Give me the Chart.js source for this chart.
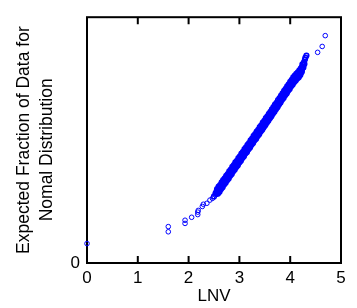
<!DOCTYPE html>
<html>
<head>
<meta charset="utf-8">
<script src="https://cdn.jsdelivr.net/npm/chart.js@4"></script>
<style>
html, body { margin: 0; padding: 0; background: #fff; }
canvas { display: block; }
</style>
</head>
<body>
<canvas id="myChart" width="357" height="308"></canvas>
<script>
const xTicks = [0, 1, 2, 3, 4, 5];
const yTicks = [0];

// isolated points at both ends (y as fraction of plot height)
const tailLnv = [0, 1.60, 1.60, 1.93, 1.93, 2.06, 2.18, 2.18, 2.19, 2.27, 2.29, 2.36, 2.42, 2.47, 4.54, 4.63, 4.69];
const tailFraction = [0.079, 0.148, 0.127, 0.174, 0.161, 0.186, 0.197, 0.207, 0.214, 0.230, 0.239, 0.243, 0.256, 0.263, 0.857, 0.881, 0.925];

// the dense band of points in the middle
const bandLnv = [
    2.50, 2.53, 2.55, 2.57, 2.59, 2.61, 2.63, 2.65, 2.67, 2.69, 2.71, 2.73, 2.75, 2.77, 2.79,
    2.81, 2.83, 2.85, 2.87, 2.89, 2.91, 2.93, 2.95, 2.97, 2.99, 3.01, 3.03, 3.05, 3.07, 3.09,
    3.11, 3.13, 3.15, 3.17, 3.19, 3.21, 3.23, 3.25, 3.27, 3.29, 3.31, 3.33, 3.35, 3.37, 3.39,
    3.41, 3.43, 3.45, 3.47, 3.49, 3.51, 3.53, 3.55, 3.57, 3.59, 3.61, 3.63, 3.65, 3.67, 3.69,
    3.71, 3.73, 3.75, 3.77, 3.79, 3.81, 3.83, 3.85, 3.87, 3.89, 3.91, 3.93, 3.95, 3.97, 3.99,
    4.01, 4.03, 4.05, 4.07, 4.09, 4.11, 4.13, 4.15, 4.17, 4.19, 4.21, 4.23, 4.24, 4.26, 4.27,
    4.29, 4.30, 4.32,
    2.56, 2.59, 2.62, 2.65, 2.68, 2.71, 2.74, 2.77, 2.80, 2.83, 2.86, 2.89, 2.92, 2.95, 2.98,
    3.01, 3.04, 3.07, 3.10, 3.13, 3.16, 3.19, 3.22, 3.25, 3.28, 3.31, 3.34, 3.37, 3.40, 3.43,
    3.46, 3.49, 3.52, 3.55, 3.58, 3.61, 3.64, 3.67, 3.70, 3.73, 3.76, 3.79, 3.82, 3.85, 3.88,
    3.91, 3.94, 3.97, 4.00, 4.03, 4.06, 4.09, 4.12, 4.15, 4.18, 4.21, 4.24,
    2.58, 2.61, 2.64, 2.67, 2.70, 2.73, 2.76, 2.79, 2.82, 2.85, 2.88, 2.91, 2.94, 2.97, 3.00,
    3.03, 3.06, 3.09, 3.12, 3.15, 3.18, 3.21, 3.24, 3.27, 3.30, 3.33, 3.36, 3.39, 3.42, 3.45,
    3.48, 3.51, 3.54, 3.57, 3.60, 3.63, 3.66, 3.69, 3.72, 3.75, 3.78, 3.81, 3.84, 3.87, 3.90,
    3.93, 3.96, 3.99, 4.02, 4.05, 4.08, 4.11, 4.14, 4.17, 4.20, 4.23, 4.26, 4.28,
    2.55, 2.59, 2.63, 2.67, 2.71, 2.75, 2.79, 2.83, 2.87, 2.91, 2.95, 2.99, 3.03, 3.07, 3.11,
    3.15, 3.19, 3.23, 3.27, 3.31, 3.35, 3.39, 3.43, 3.47, 3.51, 3.55, 3.59, 3.63, 3.67, 3.71,
    3.75, 3.79, 3.83, 3.87, 3.91, 3.95, 3.99, 4.03, 4.07, 4.11, 4.15, 4.19, 4.23,
    2.57, 2.61, 2.65, 2.69, 2.73, 2.77, 2.81, 2.85, 2.89, 2.93, 2.97, 3.01, 3.05, 3.09, 3.13,
    3.17, 3.21, 3.25, 3.29, 3.33, 3.37, 3.41, 3.45, 3.49, 3.53, 3.57, 3.61, 3.65, 3.69, 3.73,
    3.77, 3.81, 3.85, 3.89, 3.93, 3.97, 4.01, 4.05, 4.09, 4.13, 4.17, 4.21, 4.25
];
const bandFraction = [
    0.271, 0.283, 0.281, 0.295, 0.298, 0.310, 0.308, 0.322, 0.320, 0.333, 0.336, 0.339, 0.351, 0.348, 0.361,
    0.358, 0.371, 0.375, 0.378, 0.391, 0.388, 0.401, 0.398, 0.412, 0.415, 0.419, 0.431, 0.428, 0.442, 0.439,
    0.453, 0.457, 0.460, 0.472, 0.470, 0.484, 0.481, 0.495, 0.499, 0.502, 0.514, 0.511, 0.525, 0.522, 0.536,
    0.540, 0.542, 0.553, 0.550, 0.563, 0.566, 0.576, 0.579, 0.584, 0.596, 0.594, 0.608, 0.606, 0.620, 0.625,
    0.629, 0.641, 0.638, 0.652, 0.650, 0.663, 0.668, 0.672, 0.684, 0.681, 0.695, 0.693, 0.706, 0.711, 0.715,
    0.727, 0.724, 0.737, 0.735, 0.746, 0.751, 0.755, 0.763, 0.761, 0.770, 0.776, 0.786, 0.797, 0.806, 0.816,
    0.828, 0.836, 0.844,
    0.301, 0.311, 0.317, 0.328, 0.337, 0.344, 0.355, 0.362, 0.373, 0.380, 0.391, 0.398, 0.409, 0.416, 0.427,
    0.434, 0.445, 0.452, 0.463, 0.470, 0.481, 0.488, 0.499, 0.506, 0.517, 0.524, 0.535, 0.542, 0.553, 0.560,
    0.571, 0.578, 0.589, 0.597, 0.607, 0.615, 0.625, 0.634, 0.644, 0.652, 0.663, 0.671, 0.681, 0.690, 0.700,
    0.708, 0.719, 0.727, 0.737, 0.745, 0.755, 0.762, 0.770, 0.776, 0.784, 0.792, 0.808,
    0.283, 0.290, 0.301, 0.308, 0.319, 0.326, 0.337, 0.344, 0.355, 0.362, 0.373, 0.380, 0.391, 0.398, 0.409,
    0.416, 0.427, 0.434, 0.445, 0.452, 0.463, 0.470, 0.481, 0.488, 0.499, 0.506, 0.517, 0.524, 0.535, 0.542,
    0.553, 0.560, 0.571, 0.579, 0.589, 0.597, 0.608, 0.615, 0.626, 0.634, 0.645, 0.653, 0.664, 0.671, 0.682,
    0.690, 0.701, 0.708, 0.719, 0.726, 0.736, 0.742, 0.751, 0.756, 0.765, 0.778, 0.795, 0.810,
    0.291, 0.303, 0.315, 0.327, 0.339, 0.351, 0.363, 0.375, 0.387, 0.399, 0.411, 0.423, 0.435, 0.447, 0.459,
    0.471, 0.483, 0.495, 0.507, 0.519, 0.531, 0.543, 0.555, 0.567, 0.579, 0.591, 0.603, 0.616, 0.628, 0.640,
    0.653, 0.665, 0.677, 0.690, 0.702, 0.715, 0.727, 0.739, 0.750, 0.760, 0.770, 0.779, 0.796,
    0.285, 0.297, 0.309, 0.321, 0.333, 0.345, 0.357, 0.369, 0.381, 0.393, 0.405, 0.417, 0.429, 0.441, 0.453,
    0.465, 0.477, 0.489, 0.501, 0.513, 0.525, 0.537, 0.549, 0.561, 0.573, 0.585, 0.597, 0.610, 0.622, 0.634,
    0.647, 0.659, 0.671, 0.684, 0.696, 0.709, 0.721, 0.732, 0.743, 0.753, 0.762, 0.774, 0.795
];

const toPoints = (xs, ys) => xs.map((v, i) => ({ x: v, y: ys[i] }));

const fontFamily = '"Liberation Sans", Arial, Helvetica, sans-serif';

// box round the plot + inward ticks on top and bottom
const framePlugin = {
    id: 'frame',
    beforeDatasetsDraw(chart) {
        const { ctx, chartArea } = chart;
        const xScale = chart.scales.x;
        ctx.save();
        ctx.strokeStyle = '#000';
        ctx.lineWidth = 2;
        ctx.strokeRect(chartArea.left, chartArea.top, chartArea.right - chartArea.left, chartArea.bottom - chartArea.top);
        ctx.beginPath();
        xTicks.slice(1, -1).forEach(t => {
            const px = xScale.getPixelForValue(t);
            ctx.moveTo(px, chartArea.bottom);
            ctx.lineTo(px, chartArea.bottom - 7);
            ctx.moveTo(px, chartArea.top);
            ctx.lineTo(px, chartArea.top + 7);
        });
        ctx.stroke();
        ctx.restore();
    }
};

const ctx = document.getElementById('myChart');

const myChart = new Chart(ctx, {
    type: 'scatter',
    data: {
        datasets: [{
            data: toPoints(tailLnv, tailFraction),
            borderColor: '#0000ff',
            backgroundColor: 'rgba(0,0,0,0)',
            pointRadius: 2.3,
            pointBorderWidth: 1,
            clip: false
        }, {
            data: toPoints(bandLnv, bandFraction),
            borderColor: '#0000ff',
            backgroundColor: 'rgba(0,0,0,0)',
            pointRadius: 2.3,
            pointBorderWidth: 1.6,
            clip: false
        }]
    },
    options: {
        responsive: false,
        animation: false,
        layout: { padding: { top: 10, right: 16, left: 0, bottom: 0 } },
        plugins: {
            legend: { display: false },
            tooltip: { enabled: false }
        },
        scales: {
            x: {
                type: 'linear',
                min: 0,
                max: 5,
                afterBuildTicks: (scale) => { scale.ticks = xTicks.map(v => ({ value: v })); },
                afterFit: (scale) => { scale.height = 45; },
                grid: { display: false, drawTicks: false },
                border: { display: false },
                ticks: {
                    color: '#000',
                    padding: 5,
                    maxRotation: 0,
                    font: { family: fontFamily, size: 17 }
                },
                title: {
                    display: true,
                    text: 'LNV',
                    color: '#000',
                    padding: { top: 0, bottom: 1 },
                    font: { family: fontFamily, size: 17 }
                }
            },
            y: {
                type: 'linear',
                min: 0,
                max: 1,
                afterBuildTicks: (scale) => { scale.ticks = yTicks.map(v => ({ value: v })); },
                afterFit: (scale) => { scale.width = 87; },
                grid: { display: false, drawTicks: false },
                border: { display: false },
                ticks: {
                    color: '#000',
                    padding: 7,
                    font: { family: fontFamily, size: 17 }
                },
                title: {
                    display: true,
                    // trailing spaces push the second line down a little, like the original
                    text: ['Expected Fraction of Data for', 'Nomal Distribution    '],
                    color: '#000',
                    padding: { top: 13, bottom: 0 },
                    font: { family: fontFamily, size: 17.5, lineHeight: 1.31 }
                }
            }
        }
    },
    plugins: [framePlugin]
});
</script>
</body>
</html>
